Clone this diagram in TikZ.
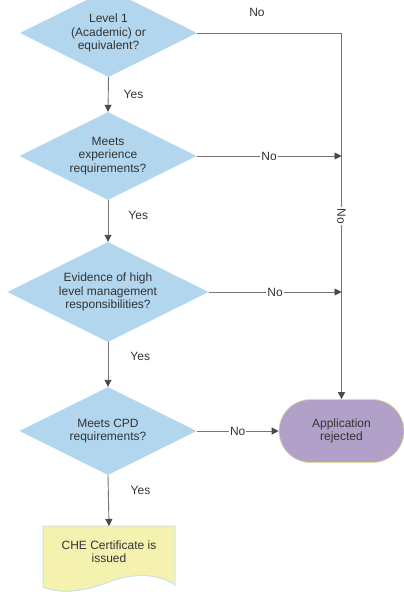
\documentclass[tikz,border=0pt]{standalone}
\usepackage{fontspec}
\setmainfont{Liberation Sans}
\usetikzlibrary{shapes.geometric,arrows.meta}
\definecolor{dblue}{HTML}{B1D6EE}
\definecolor{rejfill}{HTML}{B1A0C7}
\definecolor{rejdraw}{HTML}{E6D9A0}
\definecolor{docfill}{HTML}{F5F2B0}
\definecolor{docdraw}{HTML}{B9DCF2}
\definecolor{linec}{HTML}{757575}
\definecolor{tipc}{HTML}{4A4A4A}
\definecolor{txt}{HTML}{333333}
\tikzset{
  every node/.style={font=\fontsize{12}{13.2}\selectfont, text=txt},
  decision/.style={shape=diamond, fill=dblue, draw=none, aspect=2, inner sep=0pt, align=center},
  conn/.style={draw=linec, line width=0.9pt, -{Triangle[length=7pt,width=7pt,color=tipc]}},
  lbl/.style={fill=white, inner sep=1pt},
  yeslbl/.style={anchor=west, inner sep=0pt}
}
\begin{document}
\begin{tikzpicture}[x=1pt,y=-1pt]
\useasboundingbox[fill=white] (0,0) rectangle (404,592);
\node[decision, minimum width=177pt, minimum height=88pt] (d1) at (108.5,33) {Level 1\\(Academic) or\\equivalent?};
\node[decision, minimum width=177pt, minimum height=88pt] (d2) at (108,156) {Meets\\experience\\requirements?};
\node[decision, minimum width=201pt, minimum height=100pt] (d3) at (108,292) {Evidence of high\\level management\\responsibilities?};
\node[decision, minimum width=177pt, minimum height=88pt] (d4) at (108,431) {Meets CPD\\requirements?};
\node[rectangle, rounded corners=31.5pt, fill=rejfill, draw=rejdraw, line width=0.7pt, minimum width=125pt, minimum height=63pt, align=center] (rej) at (341.5,431) {Application\\rejected};
% document shape
\fill[docfill] (43,526) -- (175,526) -- (175,585) .. controls (158,573) and (132,573) .. (109,582) .. controls (86,591) and (62,595) .. (43,587) -- cycle;
\draw[docdraw, line width=0.7pt] (43,587) -- (43,526) -- (175,526) -- (175,585) .. controls (158,573) and (132,573) .. (109,582) .. controls (86,591) and (62,595) .. (43,587);
\node[rectangle, minimum width=132pt, minimum height=59pt, anchor=north, align=center, inner sep=0pt] (doc) at (109,526) {};
\node[align=center] (doctext) at (109,552) {CHE Certificate is\\issued};
\coordinate (j2) at (d2.east -| rej.north);
\coordinate (j3) at (d3.east -| rej.north);
% connectors
\draw[conn] (d1.south) -- node[pos=0.5, yeslbl, xshift=15pt] (y1) {Yes} (d2.north);
\draw[conn] (d2.south) -- node[pos=0.36, yeslbl, xshift=20pt] (y2) {Yes} (d3.north);
\draw[conn] (d3.south) -- node[pos=0.33, yeslbl, xshift=22pt] (y3) {Yes} (d4.north);
\draw[conn] (d4.south) -- node[pos=0.29, yeslbl, xshift=22pt] (y4) {Yes} (doc.north);
\draw[conn] (d1.east) -| node[pos=0.75, lbl, rotate=-90] (n1) {No} (rej.north);
\node (n0) at (257,12) {No};
\draw[conn] (d2.east) -- node[lbl] (n2) {No} (j2);
\draw[conn] (d3.east) -- node[lbl] (n3) {No} (j3);
\draw[conn] (d4.east) -- node[lbl] (n4) {No} (rej.west);
\end{tikzpicture}
\end{document}
